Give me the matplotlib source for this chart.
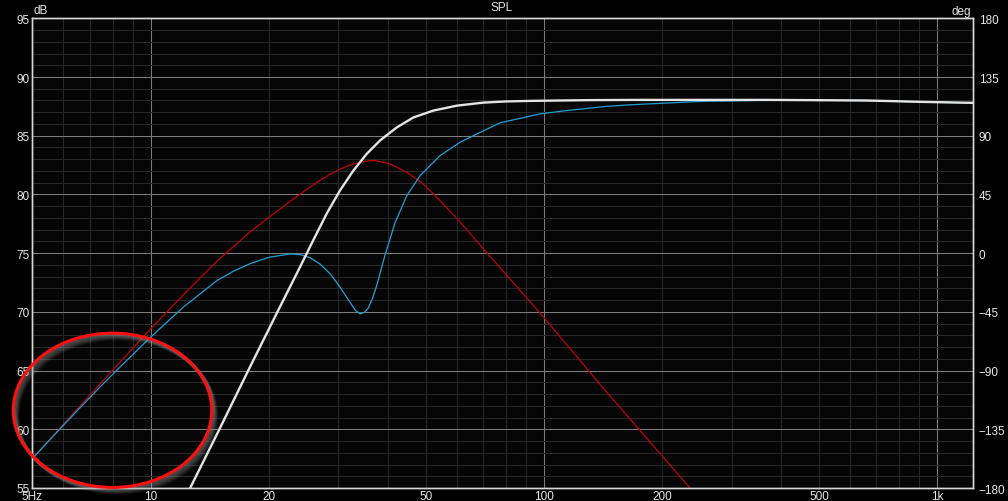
import matplotlib
matplotlib.use("Agg")
import matplotlib.pyplot as plt
from matplotlib.patches import Ellipse

# ---- data (Hz, dB) ----
spl_freq = [12.6, 15.0, 18.0, 21.0, 23.95, 25.9, 28.0, 30.3, 32.7, 35.4, 38.3,
            42.2, 46.5, 52.3, 60.0, 70.1, 80.0, 94.0, 130.0, 170.0, 370.0,
            660.0, 920.0, 1232.0]
spl_db = [55.0, 60.1, 65.5, 70.0, 73.8, 76.1, 78.35, 80.35, 82.0, 83.45, 84.6,
          85.7, 86.55, 87.14, 87.56, 87.82, 87.92, 87.97, 88.03, 88.05, 88.05,
          88.0, 87.88, 87.8]

blue_freq = [5.0, 6.07, 7.37, 8.5, 10.0, 12.1, 14.72, 16.2, 17.88,
             20.0, 22.6, 23.95, 25.4, 26.9, 28.6, 30.3, 32.1, 33.1, 34.07,
             34.9, 35.7, 36.6, 37.55, 39.4, 41.8, 44.8, 48.4, 54.4, 61.2, 66.1,
             77.3, 97.7, 114.0, 144.0, 169.0, 250.0, 348.0, 500.0, 700.0,
             920.0, 1232.0]
blue_db = [57.5, 60.53, 63.48, 65.55, 67.85, 70.4, 72.65, 73.45, 74.1,
           74.65, 74.93, 74.88, 74.62, 74.09, 73.24, 72.1, 70.83, 70.15, 69.83,
           69.95, 70.3, 71.1, 72.24, 74.8, 77.6, 79.9, 81.6, 83.3, 84.45, 85.0,
           86.1, 86.86, 87.14, 87.5, 87.65, 87.92, 88.0, 88.03, 87.98,
           87.87, 87.8]

red_freq = [5.0, 7.0, 10.0, 12.1, 14.72, 17.88, 20.0, 22.6, 23.95, 25.4, 26.9,
            28.5, 30.3, 32.1, 34.07, 36.0, 37.2, 40.6, 44.8, 49.3, 54.4, 61.2,
            70.0, 80.0, 97.7, 144.0, 235.0]
red_db = [57.5, 62.9, 68.55, 71.45, 74.3, 76.8, 78.06, 79.4, 80.02, 80.62, 81.18,
          81.7, 82.15, 82.5, 82.75, 82.87, 82.88, 82.6, 81.89, 80.9, 79.48, 77.64,
          75.4, 73.2, 69.9, 63.2, 55.0]

x_labels = ["5Hz", "10", "20", "50", "100", "200", "500", "1k"]
x_label_pos = [5, 10, 20, 50, 100, 200, 500, 1000]
left_ticks = [55, 60, 65, 70, 75, 80, 85, 90, 95]
right_ticks = [-180, -135, -90, -45, 0, 45, 90, 135, 180]

W, H = 1008, 502
txt = "#e8e8e8"
plt.rcParams['font.family'] = ['Liberation Sans', 'DejaVu Sans']

fig = plt.figure(figsize=(W / 100, H / 100), dpi=100, facecolor="black")
ax = fig.add_axes([32.3 / W, 1 - 489 / H, (973 - 32.3) / W, (489 - 19.3) / H])
ax.set_facecolor("#060606")
ax.set_xscale("log")
ax.set_xlim(5, 1232)
ax.set_ylim(55, 95)

# grid
minor_x = [6, 7, 8, 9, 20, 30, 40, 50, 60, 70, 80, 90,
           200, 300, 400, 500, 600, 700, 800, 900]
for f in minor_x:
    ax.axvline(f, color="#282828", lw=0.75, zorder=0)
for f in [10, 100, 1000]:
    ax.axvline(f, color="#7c7c7c", lw=0.75, zorder=0)
for d in range(56, 95):
    ax.axhline(d, color="#7c7c7c" if d % 5 == 0 else "#282828", lw=0.75, zorder=0)

# curves
ax.plot(red_freq, red_db, color="#c00000", lw=0.9, zorder=2)
ax.plot(blue_freq, blue_db, color="#1ea0d8", lw=0.9, zorder=3)
ax.plot(spl_freq, spl_db, color="#e4e4e4", lw=1.7, zorder=4)

ax.set_xticks(x_label_pos)
ax.set_xticklabels(x_labels)
ax.xaxis.set_minor_locator(matplotlib.ticker.NullLocator())
ax.set_yticks(left_ticks)
ax.tick_params(axis="x", length=0, pad=1.5, colors=txt, labelsize=8.5)
ax.tick_params(axis="y", length=0, pad=2, colors=txt, labelsize=8.5)
for s in ax.spines.values():
    s.set_color("#d8d8d8")
    s.set_linewidth(1.0)

ax2 = ax.twinx()
ax2.set_ylim(-180, 180)
ax2.set_yticks(right_ticks)
ax2.tick_params(axis="y", length=0, pad=4, colors=txt, labelsize=8.5)
for s in ax2.spines.values():
    s.set_color("#d8d8d8")
    s.set_linewidth(1.0)

fig.text(502 / W, 1 - 8 / H, "SPL", color=txt, fontsize=8.5, ha="center", va="center")
fig.text(33 / W, 1 - 11 / H, "dB", color=txt, fontsize=8.5, ha="left", va="center")
fig.text(971 / W, 1 - 12 / H, "deg", color=txt, fontsize=8.5, ha="right", va="center")

# red circle annotation with soft shadow
cx, cy, ew, eh = 112.5, 411.3, 198.6, 154.3
for i, a in zip(range(7, 0, -1), [0.06, 0.08, 0.1, 0.12, 0.14, 0.16, 0.18]):
    sh = Ellipse(((cx + i * 0.7) / W, 1 - (cy + i * 0.8) / H), ew / W, eh / H,
                 transform=fig.transFigure, fill=False, edgecolor="#a0a0a0",
                 lw=2.5, alpha=a)
    fig.add_artist(sh)
fig.add_artist(Ellipse((cx / W, 1 - cy / H), ew / W, eh / H,
                       transform=fig.transFigure, fill=False,
                       edgecolor="#ff1010", lw=2.2))

fig.savefig("out.png", dpi=100, facecolor="black")
